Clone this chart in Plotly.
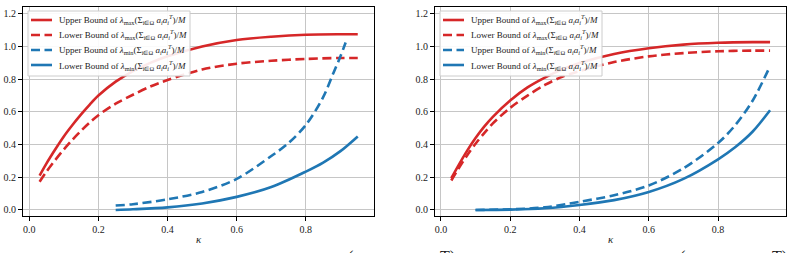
import plotly.graph_objects as go

W, H = 793, 253
RED = "#d62728"
BLUE = "#1f77b4"

# ---------------- data ----------------
# Left panel
kL_max = [0.03, 0.05, 0.075, 0.1, 0.125, 0.15, 0.175, 0.2, 0.25, 0.3, 0.35, 0.4, 0.5, 0.6, 0.7, 0.8, 0.9, 0.95]
L_upper_max = [0.21, 0.285, 0.37, 0.45, 0.52, 0.585, 0.645, 0.70, 0.785, 0.85, 0.90, 0.94, 1.0, 1.04, 1.06, 1.072, 1.075, 1.075]
L_lower_max = [0.173, 0.235, 0.305, 0.37, 0.43, 0.485, 0.535, 0.58, 0.65, 0.705, 0.755, 0.795, 0.86, 0.895, 0.913, 0.924, 0.93, 0.93]

kL_min_up = [0.25, 0.3, 0.4, 0.5, 0.6, 0.7, 0.75, 0.8, 0.85, 0.88, 0.9, 0.915]
L_upper_min = [0.027, 0.035, 0.065, 0.11, 0.19, 0.33, 0.41, 0.52, 0.69, 0.84, 0.94, 1.025]
kL_min_lo = [0.25, 0.3, 0.4, 0.5, 0.6, 0.7, 0.8, 0.85, 0.9, 0.95]
L_lower_min = [0.0, 0.004, 0.016, 0.04, 0.08, 0.14, 0.235, 0.29, 0.36, 0.45]

# Right panel
kR_max = [0.03, 0.05, 0.075, 0.1, 0.125, 0.15, 0.2, 0.25, 0.3, 0.35, 0.4, 0.5, 0.6, 0.7, 0.8, 0.9, 0.95]
R_upper_max = [0.194, 0.27, 0.36, 0.44, 0.51, 0.57, 0.67, 0.75, 0.81, 0.86, 0.90, 0.955, 0.99, 1.012, 1.023, 1.027, 1.027]
R_lower_max = [0.18, 0.25, 0.332, 0.405, 0.47, 0.53, 0.625, 0.70, 0.765, 0.815, 0.85, 0.905, 0.94, 0.96, 0.971, 0.975, 0.975]

kR_min = [0.1, 0.2, 0.3, 0.4, 0.5, 0.6, 0.7, 0.8, 0.85, 0.9, 0.95]
R_upper_min = [0.0, 0.004, 0.016, 0.05, 0.09, 0.15, 0.255, 0.41, 0.52, 0.67, 0.88]
R_lower_min = [0.0, 0.002, 0.01, 0.03, 0.06, 0.11, 0.19, 0.31, 0.385, 0.48, 0.61]

x_ticks = [0.0, 0.2, 0.4, 0.6, 0.8]
x_ticklabels = ["0.0", "0.2", "0.4", "0.6", "0.8"]
y_ticks = [0.0, 0.2, 0.4, 0.6, 0.8, 1.0, 1.2]
y_ticklabels = ["0.0", "0.2", "0.4", "0.6", "0.8", "1.0", "1.2"]
x_title = "<i>κ</i>"


def lab(kind, which, italic_i=False):
    i = "<i>i</i>" if italic_i else "i"
    return (f"{kind} Bound of <i>λ</i><sub>{which}</sub>(Σ<sub>{i}∈Ω</sub> "
            f"<i>a<sub>i</sub>a<sub>i</sub><sup>T</sup></i>)/<i>M</i>")


FONT = "Liberation Serif"
TXT = "#222222"
LW = 2.6
DASH = "9px,4.5px"

fig = go.Figure()

panels = [
    ("x", "y", [
        (kL_max, L_upper_max, RED, "solid", lab("Upper", "max")),
        (kL_max, L_lower_max, RED, DASH, lab("Lower", "max")),
        (kL_min_up, L_upper_min, BLUE, DASH, lab("Upper", "min")),
        (kL_min_lo, L_lower_min, BLUE, "solid", lab("Lower", "min")),
    ]),
    ("x2", "y2", [
        (kR_max, R_upper_max, RED, "solid", lab("Upper", "max")),
        (kR_max, R_lower_max, RED, DASH, lab("Lower", "max")),
        (kR_min, R_upper_min, BLUE, DASH, lab("Upper", "min", True)),
        (kR_min, R_lower_min, BLUE, "solid", lab("Lower", "min", True)),
    ]),
]

for xa, ya, series in panels:
    for x, y, c, d, n in series:
        fig.add_trace(go.Scatter(
            x=x, y=y, mode="lines", name=n, showlegend=False,
            line=dict(color=c, width=LW, dash=d, shape="spline", smoothing=0.9),
            xaxis=xa, yaxis=ya))


def px_x(p):
    return p / W


def px_y(p):
    return 1 - p / H


dom1 = [px_x(23), px_x(374)]
dom2 = [px_x(435), px_x(786)]
ydom = [px_y(216), px_y(7)]

axis_common = dict(
    showline=True, linecolor="black", linewidth=1.1, mirror=True,
    ticks="outside", ticklen=4, tickcolor="black", tickwidth=1,
    showgrid=True, gridcolor="#c6c6c6", gridwidth=1.2, zeroline=False,
    tickfont=dict(family=FONT, size=10, color=TXT),
)

fig.update_layout(
    width=W, height=H,
    margin=dict(l=0, r=0, t=0, b=0),
    paper_bgcolor="white", plot_bgcolor="rgba(0,0,0,0)",
    font=dict(family=FONT, size=10, color=TXT),
    showlegend=False,
    xaxis=dict(domain=dom1, range=[-0.018, 0.997], tickvals=x_ticks, ticktext=x_ticklabels, anchor="y", **axis_common),
    yaxis=dict(domain=ydom, range=[-0.037, 1.242], tickvals=y_ticks, ticktext=y_ticklabels, anchor="x", **axis_common),
    xaxis2=dict(domain=dom2, range=[-0.017, 0.996], tickvals=x_ticks, ticktext=x_ticklabels, anchor="y2", **axis_common),
    yaxis2=dict(domain=ydom, range=[-0.037, 1.242], tickvals=y_ticks, ticktext=y_ticklabels, anchor="x2", **axis_common),
    # full-page pixel frame used only for the legend boxes (drawn above the curves)
    xaxis3=dict(domain=[0, 1], range=[0, W], visible=False, fixedrange=True, anchor="y3"),
    yaxis3=dict(domain=[0, 1], range=[H, 0], visible=False, fixedrange=True, anchor="x3"),
)

# axis titles
for dom in (dom1, dom2):
    fig.add_annotation(text=x_title, x=(dom[0] + dom[1]) / 2, y=px_y(239), xref="paper", yref="paper",
                       xanchor="center", yanchor="middle", showarrow=False,
                       font=dict(family=FONT, size=11, color=TXT))

# legends (matplotlib-style boxes, built from the series definitions)
legend_boxes = [(28, 11, 190, 76), (440, 11, 602, 76)]
row_y = [20, 35, 50, 65]
for (bx0, by0, bx1, by1), (_, _, series) in zip(legend_boxes, panels):
    fig.add_trace(go.Scatter(
        x=[bx0, bx1, bx1, bx0, bx0], y=[by0, by0, by1, by1, by0], mode="lines",
        fill="toself", fillcolor="rgba(255,255,255,0.9)", line=dict(color="#cccccc", width=1),
        xaxis="x3", yaxis="y3", showlegend=False, hoverinfo="skip"))
    for (x, y, c, d, n), ry in zip(series, row_y):
        fig.add_trace(go.Scatter(
            x=[bx0 + 3, bx0 + 24], y=[ry, ry], mode="lines",
            line=dict(color=c, width=LW, dash=d),
            xaxis="x3", yaxis="y3", showlegend=False, hoverinfo="skip"))
        fig.add_annotation(text=n, x=px_x(bx0 + 29), y=px_y(ry), xref="paper", yref="paper",
                           xanchor="left", yanchor="middle", showarrow=False,
                           font=dict(family=FONT, size=9, color=TXT))

# cut-off caption fragments at the bottom edge of the reference image
for txt, xp in [("(", 350), ("T)", 447), ("(", 682), ("T)", 779)]:
    fig.add_annotation(text=txt, x=px_x(xp), y=px_y(246), xref="paper", yref="paper",
                       xanchor="center", yanchor="top", showarrow=False,
                       font=dict(family=FONT, size=16, color=TXT))

fig.write_html("out.html")
